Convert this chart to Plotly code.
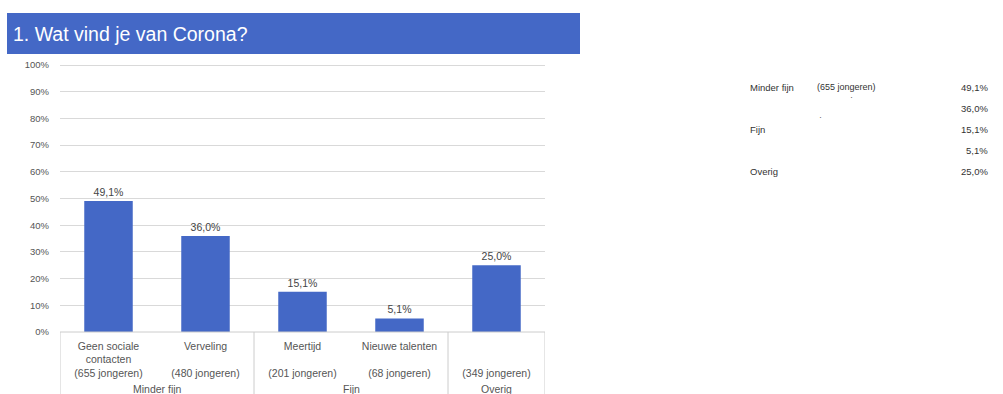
import plotly.graph_objects as go

# ---- data ----
categories = ["Geen sociale<br>contacten", "Verveling", "Meertijd", "Nieuwe talenten", ""]
counts = ["(655 jongeren)", "(480 jongeren)", "(201 jongeren)", "(68 jongeren)", "(349 jongeren)"]
groups = ["Minder fijn", "Minder fijn", "Fijn", "Fijn", "Overig"]
values = [49.1, 36.0, 15.1, 5.1, 25.0]
y_ticks = [0, 10, 20, 30, 40, 50, 60, 70, 80, 90, 100]
title = "1. Wat vind je van Corona?"

BLUE = "#4468c6"
GREY = "#555555"
FONT = "Arial, Liberation Sans, sans-serif"

W, H = 1003, 394
L, R, T, B = 60, 545, 64, 332  # plot area in px

def px(x):
    return (x - L) / (R - L)

def py(y):
    return (B - y) / (B - T)

def fmt(v):
    return f"{v:.1f}".replace(".", ",") + "%"

xs = list(range(len(values)))
ticktext = []
for c, n in zip(categories, counts):
    lines = c.split("<br>")
    while len(lines) < 2:
        lines.append(" ")
    ticktext.append("<br>".join(lines + [n]))

fig = go.Figure()
fig.add_trace(go.Bar(
    x=xs, y=values, marker_color=BLUE, marker_line_width=0,
    text=[fmt(v) for v in values], textposition="outside",
    textfont=dict(size=10.5, color="#444444", family=FONT),
    cliponaxis=False, hoverinfo="skip",
))

shapes = []
# title bar
shapes.append(dict(type="rect", xref="paper", yref="paper",
                   x0=px(7), x1=px(580), y0=py(54), y1=py(13),
                   fillcolor=BLUE, line_width=0, layer="below"))
# category box lines (vertical dividers)
for i in [-0.5, 1.5, 3.5, 4.5]:
    shapes.append(dict(type="line", xref="x", yref="paper", x0=i, x1=i,
                       y0=0, y1=py(400), line=dict(color="#cccccc", width=1)))
# baseline
shapes.append(dict(type="line", xref="paper", yref="paper", x0=0, x1=1,
                   y0=0, y1=0, line=dict(color="#cccccc", width=1)))

annotations = []
annotations.append(dict(text=title, xref="paper", yref="paper", x=px(11), y=py(34),
                        xanchor="left", yanchor="middle", showarrow=False,
                        font=dict(size=19.5, color="white", family=FONT)))
# group labels
seen = []
for g in groups:
    if g not in seen:
        seen.append(g)
for g in seen:
    idx = [i for i, gg in enumerate(groups) if gg == g]
    annotations.append(dict(text=g, xref="x", yref="paper", x=(idx[0] + idx[-1]) / 2,
                            y=py(389), xanchor="center", yanchor="middle", showarrow=False,
                            font=dict(size=10.5, color=GREY, family=FONT)))

# right-hand table
row_y = [87, 108, 129, 150, 171]
prev = None
for i, (g, v) in enumerate(zip(groups, values)):
    if g != prev:
        annotations.append(dict(text=g, xref="paper", yref="paper", x=px(748), y=py(row_y[i]),
                                xanchor="left", yanchor="middle", showarrow=False,
                                font=dict(size=9.5, color="#333333", family=FONT)))
    prev = g
    annotations.append(dict(text=fmt(v), xref="paper", yref="paper", x=px(990), y=py(row_y[i]),
                            xanchor="right", yanchor="middle", showarrow=False,
                            font=dict(size=9.5, color="#333333", family=FONT)))
annotations.append(dict(text=counts[0], xref="paper", yref="paper", x=px(815), y=py(87),
                        xanchor="left", yanchor="middle", showarrow=False,
                        font=dict(size=9, color="#333333", family=FONT)))
# tiny specks in the table
for sx, sy in [(851, 97), (820, 117)]:
    annotations.append(dict(text="·", xref="paper", yref="paper", x=px(sx), y=py(sy),
                            xanchor="center", yanchor="middle", showarrow=False,
                            font=dict(size=9, color="#666666", family=FONT)))

fig.update_layout(
    width=W, height=H,
    margin=dict(l=L, r=W - R, t=T, b=H - B, pad=0),
    paper_bgcolor="white", plot_bgcolor="white",
    showlegend=False, bargap=0.5,
    shapes=shapes, annotations=annotations,
    font=dict(family=FONT, color=GREY),
    xaxis=dict(range=[-0.5, len(values) - 0.5], tickvals=xs, ticktext=ticktext,
               showgrid=False, zeroline=False, showline=False, ticks="",
               tickfont=dict(size=10.5, color=GREY, family=FONT), ticklabelstandoff=6),
    yaxis=dict(range=[0, 100.4], tickmode="array", tickvals=y_ticks,
               ticktext=[f"{t}%" for t in y_ticks],
               showgrid=True, gridcolor="#d9d9d9", gridwidth=1, zeroline=False,
               showline=False, ticks="", ticklabelstandoff=10,
               tickfont=dict(size=9.5, color=GREY, family=FONT)),
)

fig.write_html("out.html")
